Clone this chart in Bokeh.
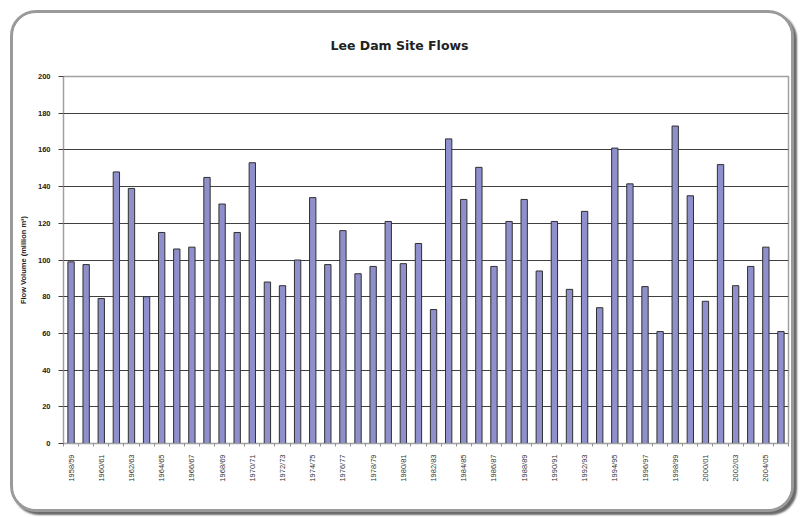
from bokeh.plotting import figure
from bokeh.models import FixedTicker, ColumnDataSource
from bokeh.embed import file_html
from bokeh.resources import INLINE
import math

title_text = "Lee Dam Site Flows"
seasons = [f"{y}/{str(y+1)[-2:]}" for y in range(1958, 2006)]
flows = [99, 97.5, 79, 148, 139, 80, 115, 106, 107, 145, 130.5, 115,
         153, 88, 86, 100, 134, 97.5, 116, 92.5, 96.5, 121, 98, 109,
         73, 166, 133, 150.5, 96.5, 121, 133, 94, 121, 84, 126.5, 74,
         161, 141.5, 85.5, 61, 173, 135, 77.5, 152, 86, 96.5, 107, 61]
y_ticks = [0, 20, 40, 60, 80, 100, 120, 140, 160, 180, 200]

idx = list(range(len(seasons)))
src = ColumnDataSource(dict(x=idx, top=flows))

p = figure(width=784, height=502, output_backend="svg", toolbar_location=None,
           x_range=(-0.5, len(seasons) - 0.5), y_range=(0, 200),
           min_border_left=50, min_border_right=9, min_border_top=63, min_border_bottom=72,
           title=title_text)
p.styles = {"border": "3px solid #9a9a9a", "border-radius": "26px",
            "box-shadow": "3px 3px 2px #6a6a6a", "overflow": "hidden",
            "background": "white", "margin-left": "10px", "margin-top": "10px"}

p.title.align = "left"
p.title.offset = 267
p.title.vertical_align = "top"
p.title.standoff = 44
p.title.text_font = "DejaVu Sans"
p.title.text_font_size = "12.5px"
p.title.text_font_style = "bold"
p.title.text_color = "#222222"

p.vbar(x="x", top="top", width=0.42, source=src, fill_color="#8f8fcb",
       line_color="#303030", line_width=1)

p.outline_line_color = "#a0a0a0"
p.outline_line_width = 1.5
p.xgrid.grid_line_color = None
p.ygrid.ticker = FixedTicker(ticks=y_ticks)
p.ygrid.grid_line_color = "#404040"
p.ygrid.grid_line_width = 1.2

p.yaxis.ticker = FixedTicker(ticks=y_ticks)
p.yaxis.axis_label = "Flow Volume (million m\u00b3)"
p.yaxis.axis_label_text_font = "Liberation Sans"
p.yaxis.axis_label_text_font_size = "7.5px"
p.yaxis.axis_label_text_font_style = "bold"
p.yaxis.axis_label_text_color = "#222222"
p.yaxis.axis_label_standoff = 7
p.yaxis.major_label_text_font = "Liberation Sans"
p.yaxis.major_label_text_font_size = "7.5px"
p.yaxis.major_label_text_font_style = "bold"
p.yaxis.major_label_text_color = "#222222"
p.yaxis.axis_line_color = "#a0a0a0"
p.yaxis.major_tick_line_color = "#404040"
p.yaxis.major_tick_out = 5
p.yaxis.major_tick_in = 0
p.yaxis.minor_tick_line_color = None
p.yaxis.major_label_standoff = 8

even = idx[::2]
p.xaxis.ticker = FixedTicker(ticks=even, minor_ticks=[i - 0.5 for i in idx] + [len(idx) - 0.5])
p.xaxis.major_label_overrides = {i: seasons[i] for i in even}
p.xaxis.major_label_orientation = math.pi / 2
p.xaxis.major_label_text_font = "Liberation Sans"
p.xaxis.major_label_text_font_size = "7.5px"
p.xaxis.major_label_text_color = "#333333"
p.xaxis.major_tick_out = 0
p.xaxis.major_tick_in = 0
p.xaxis.minor_tick_out = 3
p.xaxis.minor_tick_in = 0
p.xaxis.minor_tick_line_color = "#909090"
p.xaxis.axis_line_color = "#a0a0a0"
p.xaxis.major_label_standoff = 8

open("out.html", "w").write(file_html(p, INLINE))
